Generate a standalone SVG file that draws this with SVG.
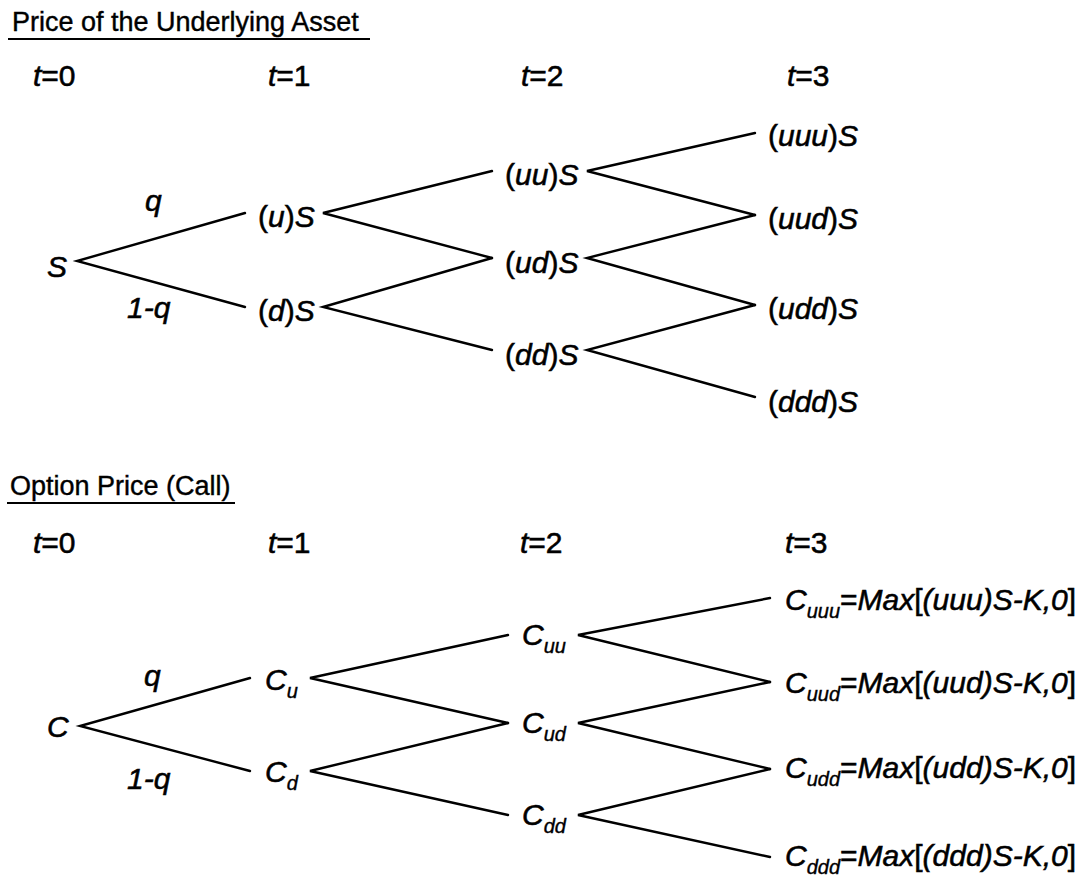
<svg xmlns="http://www.w3.org/2000/svg" width="1088" height="882" viewBox="0 0 1088 882">
  <style>
    text { font-family: "Liberation Sans", Arial, Helvetica, sans-serif; fill: #000; stroke: #000; stroke-width: 0.55; }
    .title { font-size: 27px; stroke-width: 0.4; }
    .lbl { font-size: 30px; }
    .i { font-style: italic; }
    .sub { font-size: 20px; font-style: italic; stroke-width: 0.4; }
    .edge { stroke: #000; stroke-width: 2.4; fill: none; stroke-linecap: round; }
    .rule { stroke: #000; stroke-width: 2; }
  </style>
  <rect width="1088" height="882" fill="#fff"/>

  <!-- ===== Upper tree: price of the underlying asset ===== -->
  <g id="title-asset">
    <text class="title" x="12" y="31">Price of the Underlying Asset</text>
    <line class="rule" x1="8" y1="39" x2="370" y2="39"/>
  </g>
  <g id="time-asset">
    <text class="lbl" x="33" y="86"><tspan class="i">t</tspan>=0</text>
    <text class="lbl" x="268" y="86"><tspan class="i">t</tspan>=1</text>
    <text class="lbl" x="521" y="86"><tspan class="i">t</tspan>=2</text>
    <text class="lbl" x="787" y="86"><tspan class="i">t</tspan>=3</text>
  </g>

  <g id="connectors-asset">
    <polyline class="edge" points="245,213 77,261 245,307"/>
    <polyline class="edge" points="492,171 323,213 492,258"/>
    <polyline class="edge" points="492,258 323,307 492,350"/>
    <polyline class="edge" points="755,133 587,171 755,215"/>
    <polyline class="edge" points="755,215 587,258 755,305"/>
    <polyline class="edge" points="755,305 587,350 755,397"/>
  </g>
  <g id="prob-asset">
    <text class="lbl i" x="145" y="211">q</text>
    <text class="lbl i" x="127" y="318">1-q</text>
  </g>

  <g id="node-S"><text class="lbl i" x="47" y="277">S</text></g>
  <g id="node-uS"><text class="lbl" x="258" y="227">(<tspan class="i">u</tspan>)<tspan class="i">S</tspan></text></g>
  <g id="node-dS"><text class="lbl" x="258" y="321">(<tspan class="i">d</tspan>)<tspan class="i">S</tspan></text></g>
  <g id="node-uuS"><text class="lbl" x="505" y="185">(<tspan class="i">uu</tspan>)<tspan class="i">S</tspan></text></g>
  <g id="node-udS"><text class="lbl" x="505" y="273">(<tspan class="i">ud</tspan>)<tspan class="i">S</tspan></text></g>
  <g id="node-ddS"><text class="lbl" x="505" y="365">(<tspan class="i">dd</tspan>)<tspan class="i">S</tspan></text></g>
  <g id="node-uuuS"><text class="lbl" x="768" y="146">(<tspan class="i">uuu</tspan>)<tspan class="i">S</tspan></text></g>
  <g id="node-uudS"><text class="lbl" x="768" y="229">(<tspan class="i">uud</tspan>)<tspan class="i">S</tspan></text></g>
  <g id="node-uddS"><text class="lbl" x="768" y="319">(<tspan class="i">udd</tspan>)<tspan class="i">S</tspan></text></g>
  <g id="node-dddS"><text class="lbl" x="768" y="412">(<tspan class="i">ddd</tspan>)<tspan class="i">S</tspan></text></g>

  <!-- ===== Lower tree: call option value ===== -->
  <g id="title-option">
    <text class="title" x="10" y="495">Option Price (Call)</text>
    <line class="rule" x1="7" y1="503" x2="235" y2="503"/>
  </g>
  <g id="time-option">
    <text class="lbl" x="33" y="553"><tspan class="i">t</tspan>=0</text>
    <text class="lbl" x="268" y="553"><tspan class="i">t</tspan>=1</text>
    <text class="lbl" x="520" y="553"><tspan class="i">t</tspan>=2</text>
    <text class="lbl" x="785" y="553"><tspan class="i">t</tspan>=3</text>
  </g>

  <g id="connectors-option">
    <polyline class="edge" points="250,678 80,726 250,771"/>
    <polyline class="edge" points="508,635 310,678 508,723"/>
    <polyline class="edge" points="508,723 310,771 508,815"/>
    <polyline class="edge" points="770,598 578,635 770,682"/>
    <polyline class="edge" points="770,682 578,723 770,769"/>
    <polyline class="edge" points="770,769 578,815 770,857"/>
  </g>
  <g id="prob-option">
    <text class="lbl i" x="144" y="686">q</text>
    <text class="lbl i" x="127" y="789">1-q</text>
  </g>

  <g id="node-C"><text class="lbl i" x="47" y="737">C</text></g>
  <g id="node-Cu"><text class="lbl" x="265" y="690"><tspan class="i">C</tspan><tspan class="sub" dy="8">u</tspan></text></g>
  <g id="node-Cd"><text class="lbl" x="265" y="782"><tspan class="i">C</tspan><tspan class="sub" dy="8">d</tspan></text></g>
  <g id="node-Cuu"><text class="lbl" x="522" y="645"><tspan class="i">C</tspan><tspan class="sub" dy="8">uu</tspan></text></g>
  <g id="node-Cud"><text class="lbl" x="522" y="733"><tspan class="i">C</tspan><tspan class="sub" dy="8">ud</tspan></text></g>
  <g id="node-Cdd"><text class="lbl" x="522" y="825"><tspan class="i">C</tspan><tspan class="sub" dy="8">dd</tspan></text></g>
  <g id="node-Cuuu"><text class="lbl" x="785" y="610"><tspan class="i">C</tspan><tspan class="sub" dy="8">uuu</tspan><tspan dy="-8">=</tspan><tspan class="i">Max</tspan>[<tspan class="i">(uuu)S-K,0</tspan>]</text></g>
  <g id="node-Cuud"><text class="lbl" x="785" y="693"><tspan class="i">C</tspan><tspan class="sub" dy="8">uud</tspan><tspan dy="-8">=</tspan><tspan class="i">Max</tspan>[<tspan class="i">(uud)S-K,0</tspan>]</text></g>
  <g id="node-Cudd"><text class="lbl" x="785" y="778"><tspan class="i">C</tspan><tspan class="sub" dy="8">udd</tspan><tspan dy="-8">=</tspan><tspan class="i">Max</tspan>[<tspan class="i">(udd)S-K,0</tspan>]</text></g>
  <g id="node-Cddd"><text class="lbl" x="785" y="866"><tspan class="i">C</tspan><tspan class="sub" dy="8">ddd</tspan><tspan dy="-8">=</tspan><tspan class="i">Max</tspan>[<tspan class="i">(ddd)S-K,0</tspan>]</text></g>
</svg>
